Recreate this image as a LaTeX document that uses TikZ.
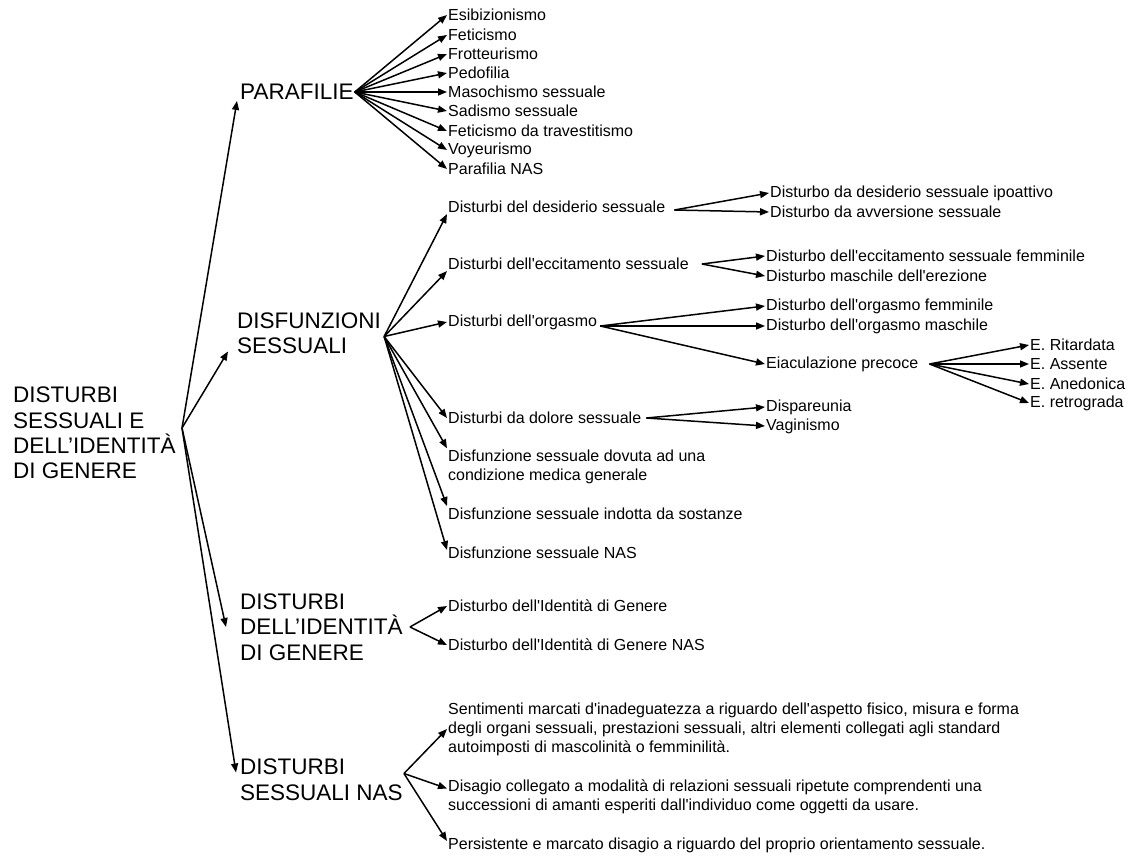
\documentclass[tikz,border=0pt]{standalone}
\usepackage{fontspec}
\setmainfont{Liberation Sans}
\newfontfamily\lab{Liberation Sans}
\usetikzlibrary{arrows.meta}

\tikzset{
  big/.style={anchor=west, align=left, inner sep=1pt, font=\fontsize{22.5}{25.5}\selectfont},
  small/.style={anchor=west, align=left, inner sep=1pt, font=\lab\fontsize{16}{19}\selectfont},
  arr/.style={-{Triangle[length=9pt,width=7pt]}, line width=1.5pt}
}

\begin{document}
\begin{tikzpicture}[x=1pt, y=-1pt]
\useasboundingbox (0,0) rectangle (1140,864);

% root and the four branches
\node[big] (root) at (12,433) {DISTURBI\\SESSUALI E\\DELL’IDENTITÀ\\DI GENERE};
\coordinate (rootfork) at (182,428);
\node[big] (para) at (239,92) {PARAFILIE};
\node[big] (disf) at (236,333.5) {DISFUNZIONI\\SESSUALI};
\node[big] (gid) at (239,627) {DISTURBI\\DELL’IDENTITÀ\\DI GENERE};
\node[big] (nas) at (239,779.5) {DISTURBI\\SESSUALI NAS};

\draw[arr] (rootfork) -- ([xshift=-2pt]para.south west);
\draw[arr] (rootfork) -- ([xshift=-8pt,yshift=4pt]disf.south west);
\draw[arr] (rootfork) -- ([xshift=-13pt]gid.west);
\draw[arr] (rootfork) -- ([xshift=-3pt,yshift=7pt]nas.west);

% parafilie
\node[small] (esib) at (447,15) {Esibizionismo};
\node[small] (feti) at (447,35) {Feticismo};
\node[small] (frot) at (447,54) {Frotteurismo};
\node[small] (pedo) at (447,73) {Pedofilia};
\node[small] (maso) at (447,92) {Masochismo sessuale};
\node[small] (sadi) at (447,111) {Sadismo sessuale};
\node[small] (trav) at (447,131) {Feticismo da travestitismo};
\node[small] (voye) at (447,150) {Voyeurismo};
\node[small] (pnas) at (447,169) {Parafilia NAS};

\draw[arr] (para.east) -- (esib.west);
\draw[arr] (para.east) -- (feti.west);
\draw[arr] (para.east) -- (frot.west);
\draw[arr] (para.east) -- (pedo.west);
\draw[arr] (para.east) -- (maso.west);
\draw[arr] (para.east) -- (sadi.west);
\draw[arr] (para.east) -- (trav.west);
\draw[arr] (para.east) -- (voye.west);
\draw[arr] (para.east) -- (pnas.west);

% disfunzioni sessuali
\node[small] (des) at (447,207) {Disturbi del desiderio sessuale};
\node[small] (ecc) at (447,264) {Disturbi dell'eccitamento sessuale};
\node[small] (orgs) at (447,322) {Disturbi dell'orgasmo};
\node[small] (dol) at (447,418) {Disturbi da dolore sessuale};
\node[small] (med) at (447,466.5) {Disfunzione sessuale dovuta ad una\\condizione medica generale};
\node[small] (sost) at (447,514) {Disfunzione sessuale indotta da sostanze};
\node[small] (dnas) at (447,553) {Disfunzione sessuale NAS};

\draw[arr] ([xshift=2pt,yshift=-3pt]disf.east) -- (des.south west);
\draw[arr] ([xshift=2pt,yshift=-3pt]disf.east) -- (ecc.south west);
\draw[arr] ([xshift=2pt,yshift=-3pt]disf.east) -- (orgs.west);
\draw[arr] ([xshift=2pt,yshift=-3pt]disf.east) -- (dol.west);
\draw[arr] ([xshift=2pt,yshift=-3pt]disf.east) -- (med.north west);
\draw[arr] ([xshift=2pt,yshift=-3pt]disf.east) -- ([yshift=8pt]sost.west);
\draw[arr] ([xshift=2pt,yshift=-3pt]disf.east) -- ([yshift=3pt]dnas.west);

\node[small] (ipo) at (769,193) {Disturbo da desiderio sessuale ipoattivo};
\node[small] (avv) at (769,212) {Disturbo da avversione sessuale};
\draw[arr] ([xshift=8pt,yshift=-3pt]des.east) -- (ipo.west);
\draw[arr] ([xshift=8pt,yshift=-3pt]des.east) -- (avv.west);

\node[small] (eccf) at (765,256) {Disturbo dell'eccitamento sessuale femminile};
\node[small] (erez) at (765,276) {Disturbo maschile dell'erezione};
\draw[arr] ([xshift=12pt]ecc.east) -- (eccf.west);
\draw[arr] ([xshift=12pt]ecc.east) -- (erez.west);

\node[small] (orgf) at (765,306) {Disturbo dell'orgasmo femminile};
\node[small] (orgm) at (765,326) {Disturbo dell'orgasmo maschile};
\node[small] (eiac) at (765,364) {Eiaculazione precoce};
\draw[arr] ([xshift=2pt,yshift=-4pt]orgs.east) -- (orgf.west);
\draw[arr] ([xshift=2pt,yshift=-4pt]orgs.east) -- (orgm.west);
\draw[arr] ([xshift=2pt,yshift=-4pt]orgs.east) -- (eiac.west);

\node[small] (erit) at (1029,345) {E. Ritardata};
\node[small] (eass) at (1029,364) {E. Assente};
\node[small] (eane) at (1029,384) {E. Anedonica};
\node[small] (eret) at (1029,403) {E. retrograda};
\draw[arr] ([xshift=10pt]eiac.east) -- (erit.west);
\draw[arr] ([xshift=10pt]eiac.east) -- (eass.west);
\draw[arr] ([xshift=10pt]eiac.east) -- (eane.west);
\draw[arr] ([xshift=10pt]eiac.east) -- (eret.west);

\node[small] (disp) at (765,407) {Dispareunia};
\node[small] (vagi) at (765,426) {Vaginismo};
\draw[arr] ([xshift=4pt]dol.east) -- (disp.west);
\draw[arr] ([xshift=4pt]dol.east) -- (vagi.west);

% identita di genere
\node[small] (idg) at (447,606) {Disturbo dell'Identità di Genere};
\node[small] (idgn) at (447,645) {Disturbo dell'Identità di Genere NAS};
\draw[arr] ([xshift=6pt]gid.east) -- (idg.west);
\draw[arr] ([xshift=6pt]gid.east) -- (idgn.west);

% disturbi sessuali nas
\node[small] (sent) at (447,729) {Sentimenti marcati d'inadeguatezza a riguardo dell'aspetto fisico, misura e forma\\degli organi sessuali, prestazioni sessuali, altri elementi collegati agli standard\\autoimposti di mascolinità o femminilità.};
\node[small] (disa) at (447,796.5) {Disagio collegato a modalità di relazioni sessuali ripetute comprendenti una\\successioni di amanti esperiti dall'individuo come oggetti da usare.};
\node[small] (pers) at (447,845) {Persistente e marcato disagio a riguardo del proprio orientamento sessuale.};
\draw[arr] ([yshift=6pt]nas.east) -- (sent.west);
\draw[arr] ([yshift=6pt]nas.east) -- ([yshift=8pt]disa.west);
\draw[arr] ([yshift=6pt]nas.east) -- ([yshift=4pt]pers.west);

\end{tikzpicture}
\end{document}
